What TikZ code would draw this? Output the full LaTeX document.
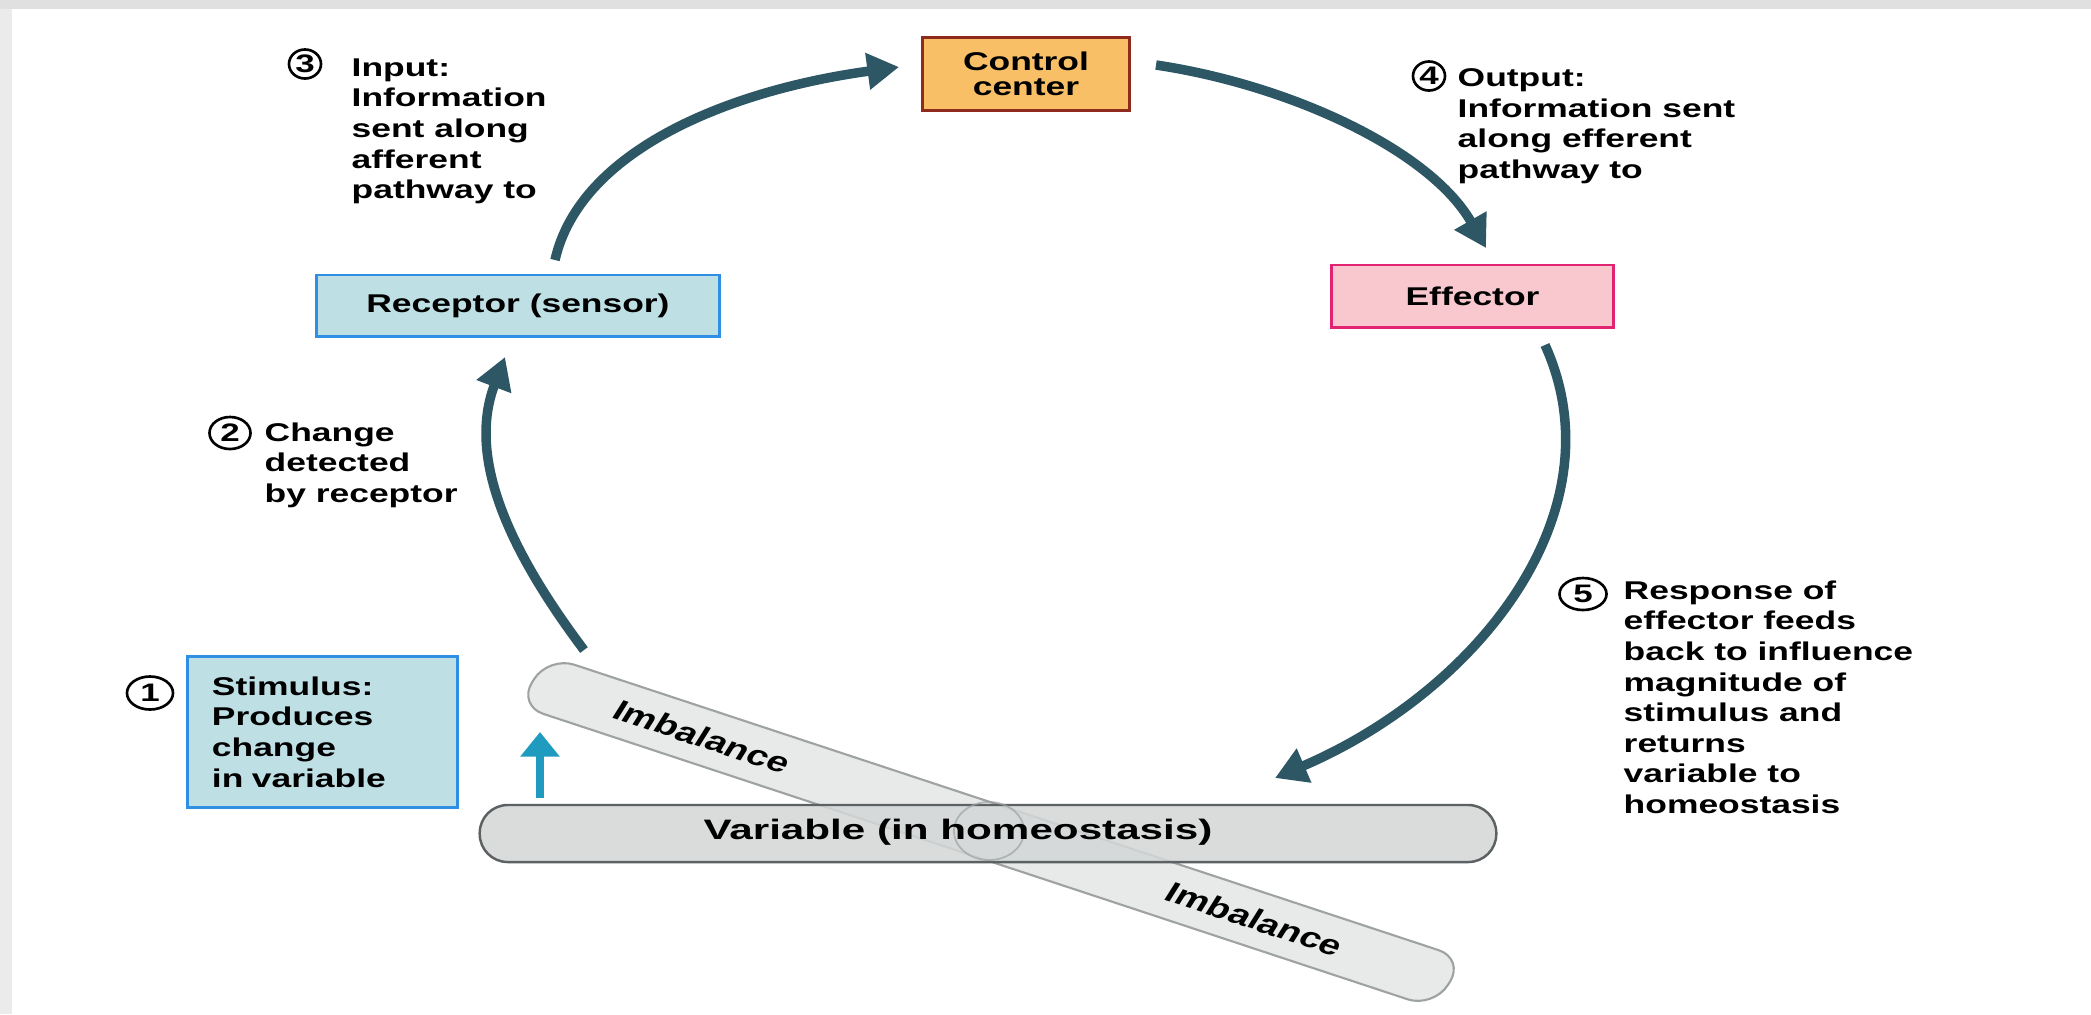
\documentclass[tikz,border=0pt]{standalone}
\usepackage{fontspec}
\setmainfont{Liberation Sans}
\newfontfamily\lblfont[FakeStretch=1.38]{Liberation Sans}
\newfontfamily\varfont[FakeStretch=1.5]{Liberation Sans}
\usetikzlibrary{arrows.meta,shapes.geometric}
\definecolor{flowteal}{HTML}{2D5764}
\definecolor{recfill}{HTML}{BEE0E5}
\definecolor{recline}{HTML}{2F8FE3}
\definecolor{ctrlfill}{HTML}{F8BF66}
\definecolor{ctrlline}{HTML}{8E2B1C}
\definecolor{efffill}{HTML}{F9C8CE}
\definecolor{effline}{HTML}{E02472}
\definecolor{barfill}{HTML}{D4D7D7}
\definecolor{barline}{HTML}{5C6163}
\definecolor{tiltfill}{HTML}{E8E9E9}
\definecolor{tiltline}{HTML}{9EA2A3}
\definecolor{stimarrow}{HTML}{1F9BC0}

\begin{document}
\begin{tikzpicture}[x=0.01cm,y=-0.01cm,
  lbl/.style={font=\lblfont\bfseries\fontsize{7.3}{8.7}\selectfont, align=left, inner sep=0pt, anchor=north west},
  numc/.style={draw, ellipse, line width=0.75pt, inner sep=0pt, font=\lblfont\bfseries\fontsize{7.2}{8}\selectfont},
  cbox/.style={line width=0.85pt, inner sep=0pt, font=\lblfont\bfseries\fontsize{7.3}{8.7}\selectfont, align=center},
  flow/.style={flowteal, line width=2.7pt, -{Triangle[length=9pt,width=10pt]}}
]
\useasboundingbox (0,0) rectangle (2091,1014);
\fill[white] (0,0) rectangle (2091,1014);
\fill[black!12] (0,0) rectangle (2091,9);
\fill[black!8] (0,9) rectangle (12,1014);

% Tilted bar (imbalance)
\begin{scope}[shift={(991,832)}, xscale=1.38, rotate=-24.5]
  \node[draw=tiltline, fill=tiltfill, rounded corners=0.27cm, minimum width=7.29cm, minimum height=0.54cm, line width=0.6pt, transform shape] (tilt) at (0,0) {};
  \node[transform shape, font=\bfseries\fontsize{8}{9}\selectfont] (imbup) at (-230,0) {Imbalance};
  \node[transform shape, font=\bfseries\fontsize{8}{9}\selectfont] (imbdown) at (210,0) {Imbalance};
\end{scope}

% Variable bar
\node[draw=barline, fill=barfill, fill opacity=0.85, rounded corners=0.28cm, minimum width=10.16cm, minimum height=0.57cm, line width=0.7pt] (var) at (988,833.5) {};
\draw[tiltline, line width=0.5pt, opacity=0.7] (989,831) ellipse [x radius=0.35cm, y radius=0.29cm];
\node[anchor=base, inner sep=0pt, font=\varfont\bfseries\fontsize{8}{9}\selectfont] (vartxt) at (958,839) {Variable (in homeostasis)};

% Boxes
\node[cbox, fill=ctrlfill, draw=ctrlline, minimum width=2.07cm, minimum height=0.72cm] (ctrl) at (1026,74) {Control\\[-1.5pt]center};
\node[cbox, fill=recfill, draw=recline, minimum width=4.02cm, minimum height=0.61cm] (rec) at (518,305.5) {Receptor (sensor)};
\node[cbox, fill=efffill, draw=effline, minimum width=2.81cm, minimum height=0.62cm] (eff) at (1472.5,296) {Effector};
\node[cbox, fill=recfill, draw=recline, minimum width=2.69cm, minimum height=1.5cm, text width=2.21cm, inner xsep=0.24cm, align=left] (stim) at (322.5,732) {Stimulus:\\Produces\\change\\in variable};

% Step numbers
\node[numc, minimum width=0.46cm, minimum height=0.33cm] (n1) at (150,693) {1};
\node[numc, minimum width=0.41cm, minimum height=0.32cm] (n2) at (230,433) {2};
\node[numc, minimum width=0.32cm, minimum height=0.29cm] (n3) at (305,64) {3};
\node[numc, minimum width=0.32cm, minimum height=0.29cm] (n4) at (1429,76) {4};
\node[numc, minimum width=0.47cm, minimum height=0.32cm] (n5) at (1583,594) {5};

% Step texts
\node[lbl] (t2) at (264,422) {Change\\detected\\by receptor};
\node[lbl] (t3) at (351,58) {Input:\\Information\\sent along\\afferent\\pathway to};
\node[lbl] (t4) at (1457,68) {Output:\\Information sent\\along efferent\\pathway to};
\node[lbl] (t5) at (1623,580) {Response of\\effector feeds\\back to influence\\magnitude of\\stimulus and\\returns\\variable to\\homeostasis};

% Loop arrows
\coordinate (a2s) at (584,650);
\coordinate (a2e) at (505,357);
\coordinate (a3s) at (555,260);
\coordinate (a3e) at (899,67);
\coordinate (a4s) at (1156,65);
\coordinate (a4e) at (1486,248);
\coordinate (a5s) at (1545,345);
\coordinate (a5e) at (1275,778);
\draw[flow] (a2s) .. controls (505,545) and (468,455) .. (a2e);
\draw[flow] (a3s) .. controls (580,150) and (730,90) .. (a3e);
\draw[flow] (a4s) .. controls (1290,85) and (1430,150) .. (a4e);
\draw[flow] (a5s) .. controls (1620,510) and (1480,690) .. (a5e);

% Stimulus arrow
\coordinate (sts) at (540,798);
\coordinate (ste) at (540,732);
\draw[stimarrow, line width=2pt, -{Triangle[length=7pt,width=10.8pt]}] (sts) -- (ste);

\end{tikzpicture}
\end{document}
